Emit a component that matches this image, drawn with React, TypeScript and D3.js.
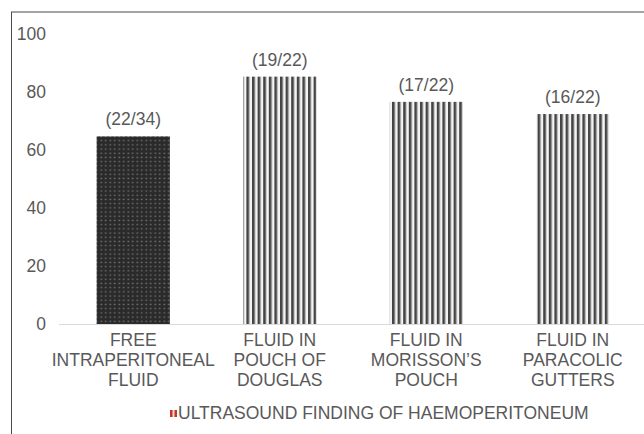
import React from "react";
import * as d3 from "d3";

const categories = ["free", "douglas", "morisson", "paracolic"];
const categoryLines = [
  ["FREE", "INTRAPERITONEAL", "FLUID"],
  ["FLUID IN", "POUCH OF", "DOUGLAS"],
  ["FLUID IN", "MORISSON’S", "POUCH"],
  ["FLUID IN", "PARACOLIC", "GUTTERS"],
];
const values = [64.7, 85.3, 76.6, 72.4];
const dataLabels = ["(22/34)", "(19/22)", "(17/22)", "(16/22)"];
const yTicks = [0, 20, 40, 60, 80, 100];
const legendLabel = "ULTRASOUND FINDING OF HAEMOPERITONEUM";

const W = 644;
const H = 434;
const font = "'Liberation Sans', Arial, sans-serif";
const textColor = "#595959";
const fs = 17.5;

export default function App() {
  const x = d3.scaleBand<string>().domain(categories).range([60, 646]).paddingInner(0.5).paddingOuter(0.25);
  const y = d3.scaleLinear().domain([0, 100]).range([324, 34]);
  const cx = (c: string) => (x(c) ?? 0) + x.bandwidth() / 2;

  return (
    <svg width={W} height={H} style={{ position: "absolute", left: 0, top: 0 }} fontFamily={font}>
      <defs>
        <pattern id="dots" width={4.5} height={4.2} patternUnits="userSpaceOnUse">
          <rect width={4.5} height={4.2} fill="#2a2a2a" />
          <rect x={1.5} y={1.4} width={1.5} height={1.3} fill="#7a7a7a" />
        </pattern>
        <pattern id="stripes" width={5.6} height={10} patternUnits="userSpaceOnUse">
          <rect width={5.6} height={10} fill="#f4f4f4" />
          <rect x={0} width={2.6} height={10} fill="#444" />
          <rect x={2.6} width={0.6} height={10} fill="#999" />
        </pattern>
      </defs>
      <rect x={11.5} y={12} width={700} height={500} fill="#fff" stroke="#4a4a4a" strokeWidth={1} />

      {/* y axis labels */}
      {yTicks.map((t) => (
        <text key={t} x={46} y={y(t) + 6} textAnchor="end" fontSize={fs} fill={textColor}>
          {t}
        </text>
      ))}

      {/* bars */}
      {categories.map((c, i) => (
        <rect
          key={c}
          x={x(c)}
          y={y(values[i])}
          width={x.bandwidth()}
          height={y(0) - y(values[i])}
          fill={i === 0 ? "url(#dots)" : "url(#stripes)"}
        />
      ))}

      <line x1={59} x2={W} y1={y(0) + 0.5} y2={y(0) + 0.5} stroke="#d9d9d9" strokeWidth={1.2} />

      {/* data labels */}
      {categories.map((c, i) => (
        <text key={c} x={cx(c)} y={y(values[i]) - 11} textAnchor="middle" fontSize={fs} fill={textColor}>
          {dataLabels[i]}
        </text>
      ))}

      {/* category labels */}
      {categories.map((c, i) => (
        <text key={c} textAnchor="middle" fontSize={fs} fill={textColor}>
          {categoryLines[i].map((line, j) => (
            <tspan key={j} x={cx(c)} y={346 + j * 20}>
              {line}
            </tspan>
          ))}
        </text>
      ))}

      {/* legend */}
      <rect x={170} y={410} width={7} height={7} fill="#c0392b" />
      <rect x={172.5} y={410} width={2} height={7} fill="#f6d5d0" />
      <text x={178} y={419} fontSize={fs} fill={textColor}>
        {legendLabel}
      </text>
    </svg>
  );
}
